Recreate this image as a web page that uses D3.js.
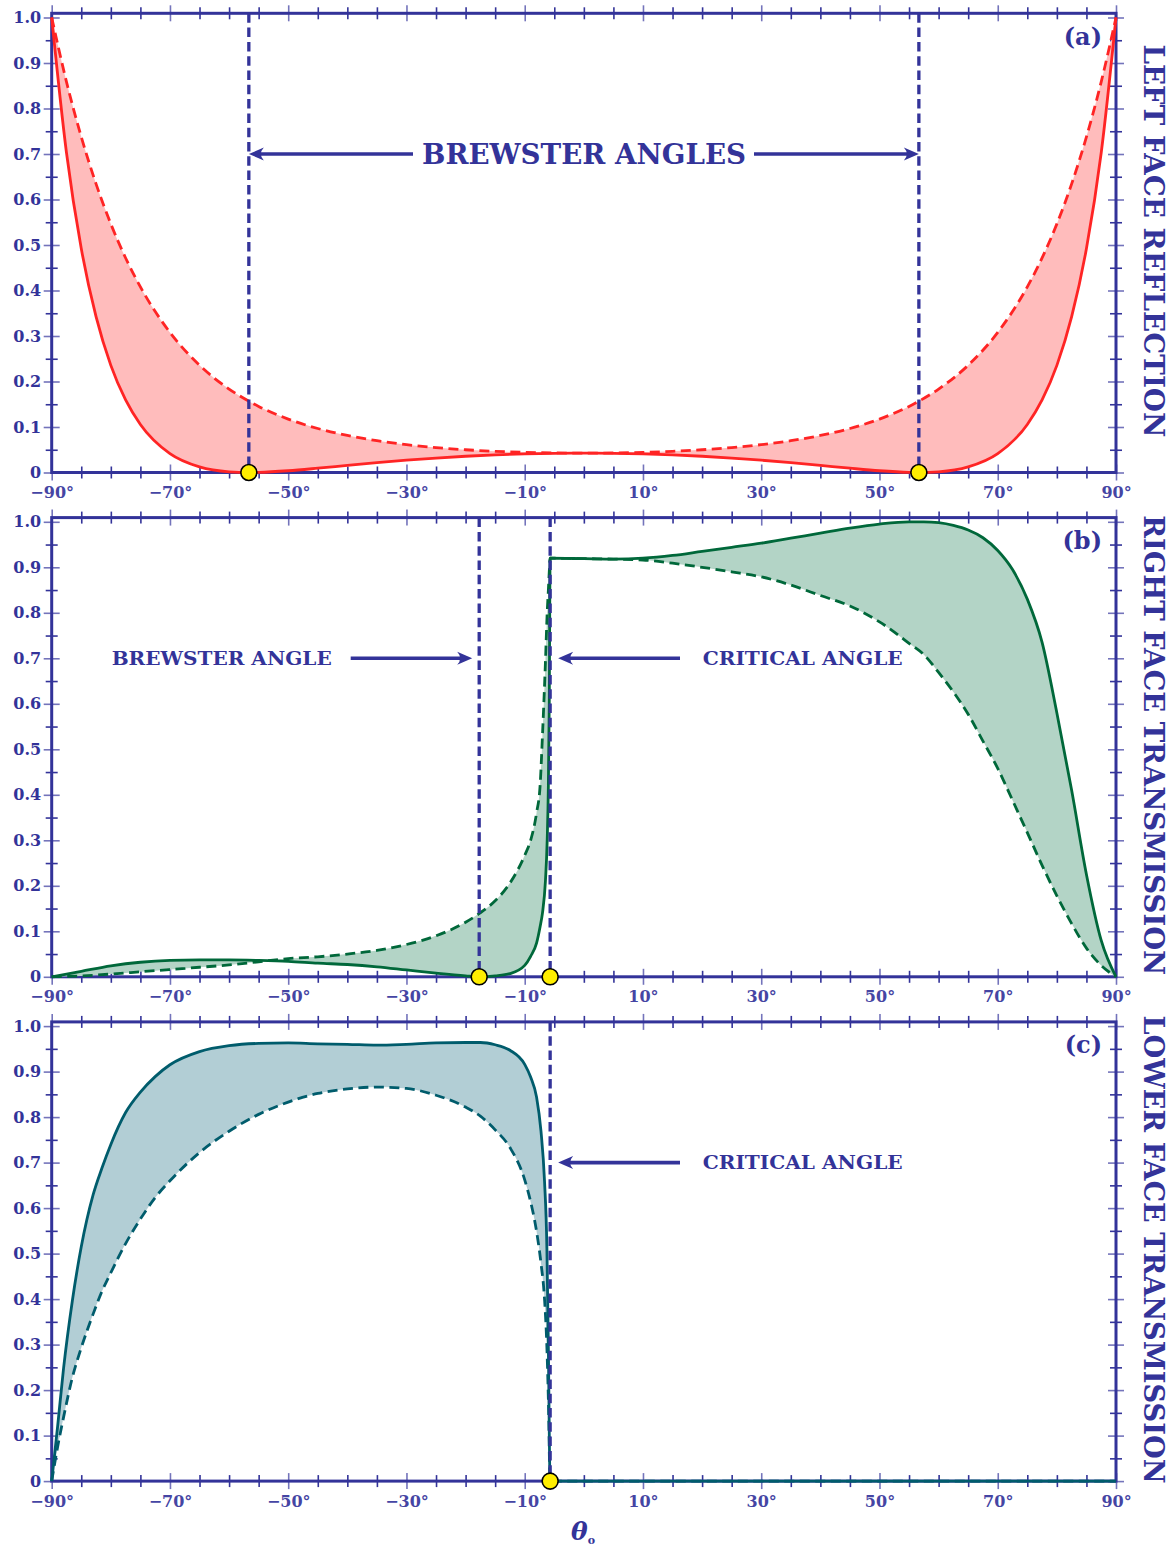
<!DOCTYPE html>
<html>
<head>
<meta charset="utf-8">
<script src="https://cdn.jsdelivr.net/npm/d3@7"></script>
<style>
  html, body { margin: 0; padding: 0; background: #fff; }
  svg { display: block; }
  text { font-family: "DejaVu Serif", "Liberation Serif", serif; font-weight: bold; }
</style>
</head>
<body>
<svg id="chart" width="1176" height="1549"></svg>
<script>
// ---------- axis ticks ----------
const angleTickValues = [-90, -70, -50, -30, -10, 10, 30, 50, 70, 90];
const angleTickLabels = ["−90°", "−70°", "−50°", "−30°", "−10°", "10°", "30°", "50°", "70°", "90°"];
const valueTickValues = [0, 0.1, 0.2, 0.3, 0.4, 0.5, 0.6, 0.7, 0.8, 0.9, 1.0];
const valueTickLabels = ["0", "0.1", "0.2", "0.3", "0.4", "0.5", "0.6", "0.7", "0.8", "0.9", "1.0"];

const panelTitles = ["LEFT FACE REFLECTION", "RIGHT FACE TRANSMISSION", "LOWER FACE TRANSMISSION"];
const panelTags = ["(a)", "(b)", "(c)"];

// ---------- (a) left face reflection: s (dashed) and p (solid) ----------
const anglesA = [-90, -87.5, -85, -82.5, -80, -77.5, -75, -70, -65, -60, -56.66, -55, -50, -45, -40, -35, -30, -25, -20, -15, -10, -5,
  0, 5, 10, 15, 20, 25, 30, 35, 40, 45, 50, 55, 56.66, 60, 65, 70, 75, 77.5, 80, 82.5, 85, 87.5, 90];
const reflS = [1, .8587, .7377, .6344, .5464, .4715, .4079, .3079, .2357, .1834, .1567, .1453, .1174, .0967, .0814, .0698, .0612, .0548, .0500, .0466, .0443, .0430,
  .0426, .0430, .0443, .0466, .0500, .0548, .0612, .0698, .0814, .0967, .1174, .1453, .1567, .1834, .2357, .3079, .4079, .4715, .5464, .6344, .7377, .8587, 1];
const reflP = [1, .7027, .4922, .3424, .2355, .1595, .1056, .0415, .0123, .0015, 0, .0003, .0038, .0094, .0156, .0216, .0271, .0318, .0357, .0387, .0409, .0422,
  .0426, .0422, .0409, .0387, .0357, .0318, .0271, .0216, .0156, .0094, .0038, .0003, 0, .0015, .0123, .0415, .1056, .1595, .2355, .3424, .4922, .7027, 1];
const brewsterA = [-56.66, 56.66];

// ---------- (b) right face transmission ----------
const anglesB = [-90, -85, -80, -75, -70, -65, -60, -55, -50, -45, -40, -35, -30, -25, -20, -17.7, -15, -12.5, -10, -9,
  -8, -7.4, -7, -6.5, -6.2, -6, -5.85, -5.7,
  0, 5, 10, 15, 20, 25, 30, 35, 40, 45, 50, 55, 57.5, 60, 62.5, 65, 67.5, 70, 72.5, 75, 77.5, 80, 82.5, 85, 87.5, 90];
const transP_B = [0, .012, .024, .032, .036, .037, .037, .036, .034, .030, .027, .022, .015, .008, .002, 0, .002, .007, .025, .045,
  .074, .11, .14, .21, .30, .42, .60, .92,
  .919, .918, .920, .926, .935, .944, .953, .964, .975, .986, .995, 1.0, 1.0, .998, .992, .982, .965, .937, .895, .830, .735, .58, .41, .225, .08, 0];
const transS_B = [0, .002, .006, .011, .016, .021, .026, .033, .040, .044, .050, .058, .071, .090, .120, .139, .167, .206, .267, .30,
  .36, .42, .53, .69, .80, .85, .89, .92,
  .919, .918, .916, .909, .900, .890, .879, .861, .838, .815, .780, .733, .708, .669, .626, .577, .518, .458, .388, .317, .245, .178, .117, .063, .025, 0];
const brewsterB = -17.7;
const criticalAngle = -5.7;

// ---------- (c) lower face transmission ----------
const anglesC = [-90, -89, -88, -86.5, -85, -83, -81.5, -80, -77.5, -75, -72.5, -70, -65, -60, -55, -50, -45, -40, -35, -30, -25,
  -20, -17.5, -15, -12.5, -10, -9, -8, -7.25, -6.65, -6.25, -6, -5.7, 0, 90];
const transP_C = [0, .12, .247, .397, .515, .629, .688, .740, .810, .855, .889, .915, .944, .957, .962, .963, .961, .960, .958, .960, .963,
  .964, .964, .959, .947, .916, .888, .844, .769, .659, .512, .292, 0, 0, 0];
const transS_C = [0, .075, .14, .228, .293, .367, .417, .458, .522, .576, .623, .660, .722, .769, .806, .833, .852, .862, .866, .863, .848,
  .822, .802, .772, .733, .662, .614, .549, .479, .40, .294, .18, 0, 0, 0];

// ---------- drawing ----------
const ink = "#333399";
const svg = d3.select("#chart");
const x = d3.scaleLinear().domain([-90, 90]).range([51.7, 1116]);
const minorAngles = d3.range(-90, 91, 5);
const minorValues = d3.range(21).map(k => k / 20);
const isMajorAngle = d => angleTickValues.includes(d);
const isMajorValue = d => Math.round(d * 20) % 2 === 0;

function arrow(g, x1, x2, yy) {
  const dir = x2 > x1 ? 1 : -1;
  g.append("line")
    .attr("x1", x1).attr("x2", x2 - dir * 8).attr("y1", yy).attr("y2", yy)
    .attr("stroke", ink).attr("stroke-width", 3.6);
  g.append("path")
    .attr("d", "M0,0 L-15,-6.5 Q-9,0 -15,6.5 Z")
    .attr("transform", `translate(${x2},${yy}) scale(${dir},1)`)
    .attr("fill", ink);
}

function panel(i, angles, solid, dashed, lineColor, fillColor) {
  const zeroY = 472.5 + i * 504.3;
  const y = d3.scaleLinear().domain([0, 1]).range([zeroY, zeroY - 455]);
  const topY = y(1) - 4.2;
  const g = svg.append("g");

  const styleTicks = (sel, isMajor, horiz) => {
    sel.selectAll(".tick line")
      .attr(horiz ? "y1" : "x1", d => isMajor(d) ? -8 : -6)
      .attr(horiz ? "y2" : "x2", d => isMajor(d) ? 8 : 6)
      .attr("stroke", d => isMajor(d) ? "#7474bb" : ink)
      .attr("stroke-width", 1.6);
    sel.select(".domain").remove();
    sel.attr("font-family", null).attr("font-size", null);
  };

  // bottom axis with degree labels
  g.append("g").attr("transform", `translate(0,${zeroY})`)
    .call(d3.axisBottom(x).tickValues(minorAngles).tickSize(0).tickPadding(0)
      .tickFormat(d => isMajorAngle(d) ? angleTickLabels[angleTickValues.indexOf(d)] : ""))
    .call(s => styleTicks(s, isMajorAngle, true))
    .call(s => s.selectAll(".tick text").attr("y", 25.5).attr("dy", null)
      .attr("fill", "#4545a3").style("font-size", "16px"));

  // top axis
  g.append("g").attr("transform", `translate(0,${topY})`)
    .call(d3.axisTop(x).tickValues(minorAngles).tickSize(0).tickFormat(""))
    .call(s => styleTicks(s, isMajorAngle, true));

  // left axis with values
  g.append("g").attr("transform", `translate(${x(-90)},0)`)
    .call(d3.axisLeft(y).tickValues(minorValues).tickSize(0).tickPadding(10.5)
      .tickFormat(d => isMajorValue(d) ? valueTickLabels[Math.round(d * 10)] : ""))
    .call(s => styleTicks(s, isMajorValue, false))
    .call(s => s.selectAll(".tick text").attr("fill", ink).style("font-size", "16px"));

  // right axis
  g.append("g").attr("transform", `translate(${x(90)},0)`)
    .call(d3.axisRight(y).tickValues(minorValues).tickSize(0).tickFormat(""))
    .call(s => styleTicks(s, isMajorValue, false));

  // frame
  g.append("rect")
    .attr("x", x(-90)).attr("y", topY)
    .attr("width", x(90) - x(-90)).attr("height", zeroY - topY)
    .attr("fill", "none").attr("stroke", ink).attr("stroke-width", 3);

  const pts = angles.map((a, k) => ({ a, s: solid[k], d: dashed[k] }));
  g.append("path").datum(pts)
    .attr("d", d3.area().x(p => x(p.a)).y0(p => y(p.d)).y1(p => y(p.s)).curve(d3.curveMonotoneX))
    .attr("fill", fillColor);
  g.append("path").datum(pts)
    .attr("d", d3.line().x(p => x(p.a)).y(p => y(p.s)).curve(d3.curveMonotoneX))
    .attr("fill", "none").attr("stroke", lineColor).attr("stroke-width", 2.8);
  g.append("path").datum(pts)
    .attr("d", d3.line().x(p => x(p.a)).y(p => y(p.d)).curve(d3.curveMonotoneX))
    .attr("fill", "none").attr("stroke", lineColor).attr("stroke-width", 2.8)
    .attr("stroke-dasharray", "10,5.5");

  // panel tag
  g.append("text").attr("x", 1102).attr("y", y(1) + 27)
    .attr("text-anchor", "end").attr("fill", ink).style("font-size", "24px")
    .text(panelTags[i]);

  // side title
  const mid = (topY + zeroY) / 2;
  const titleLen = [393, 460, 468][i];
  g.append("text")
    .attr("transform", `translate(1143.5,${mid - 2}) rotate(90)`)
    .attr("text-anchor", "middle").attr("fill", ink)
    .attr("textLength", titleLen).attr("lengthAdjust", "spacingAndGlyphs")
    .style("font-size", "27px")
    .text(panelTitles[i]);

  return { g, y, zeroY, topY };
}

function markerLine(p, angle) {
  p.g.append("line")
    .attr("x1", x(angle)).attr("x2", x(angle))
    .attr("y1", p.topY).attr("y2", p.zeroY)
    .attr("stroke", ink).attr("stroke-width", 3.3)
    .attr("stroke-dasharray", "9.5,4.8");
}
function markerDot(p, angle) {
  p.g.append("circle")
    .attr("cx", x(angle)).attr("cy", p.zeroY).attr("r", 8)
    .attr("fill", "#ffee00").attr("stroke", "#000").attr("stroke-width", 1.6);
}
function label(p, cx, text, size, len) {
  p.g.append("text")
    .attr("x", cx).attr("y", p.y(0.7) + size * 0.36)
    .attr("text-anchor", "middle").attr("fill", ink)
    .attr("textLength", len).attr("lengthAdjust", "spacingAndGlyphs")
    .style("font-size", size + "px")
    .text(text);
}

// (a)
const pa = panel(0, anglesA, reflP, reflS, "#ff2424", "#ffbcbc");
brewsterA.forEach(a => markerLine(pa, a));
label(pa, 584, "BREWSTER ANGLES", 27.5, 324);
arrow(pa.g, 413, x(brewsterA[0]), pa.y(0.7));
arrow(pa.g, 754, x(brewsterA[1]), pa.y(0.7));
brewsterA.forEach(a => markerDot(pa, a));

// (b)
const pb = panel(1, anglesB, transP_B, transS_B, "#00683a", "#b3d4c6");
markerLine(pb, brewsterB);
markerLine(pb, criticalAngle);
label(pb, 221.7, "BREWSTER ANGLE", 19, 220);
label(pb, 802.7, "CRITICAL ANGLE", 19, 200);
arrow(pb.g, 350.7, x(brewsterB) - 7, pb.y(0.7));
arrow(pb.g, 680, x(criticalAngle) + 8, pb.y(0.7));
markerDot(pb, brewsterB);
markerDot(pb, criticalAngle);

// (c)
const pc = panel(2, anglesC, transP_C, transS_C, "#005c6c", "#b2ced5");
markerLine(pc, criticalAngle);
label(pc, 802.7, "CRITICAL ANGLE", 19, 200);
arrow(pc.g, 680, x(criticalAngle) + 8, pc.y(0.7));
markerDot(pc, criticalAngle);

// x-axis title
const xt = svg.append("text").attr("x", 571).attr("y", 1540).attr("fill", ink);
xt.append("tspan").style("font-size", "25px").style("font-style", "italic").text("θ");
xt.append("tspan").attr("dy", 3.5).style("font-size", "11px").text("o");
</script>
</body>
</html>
